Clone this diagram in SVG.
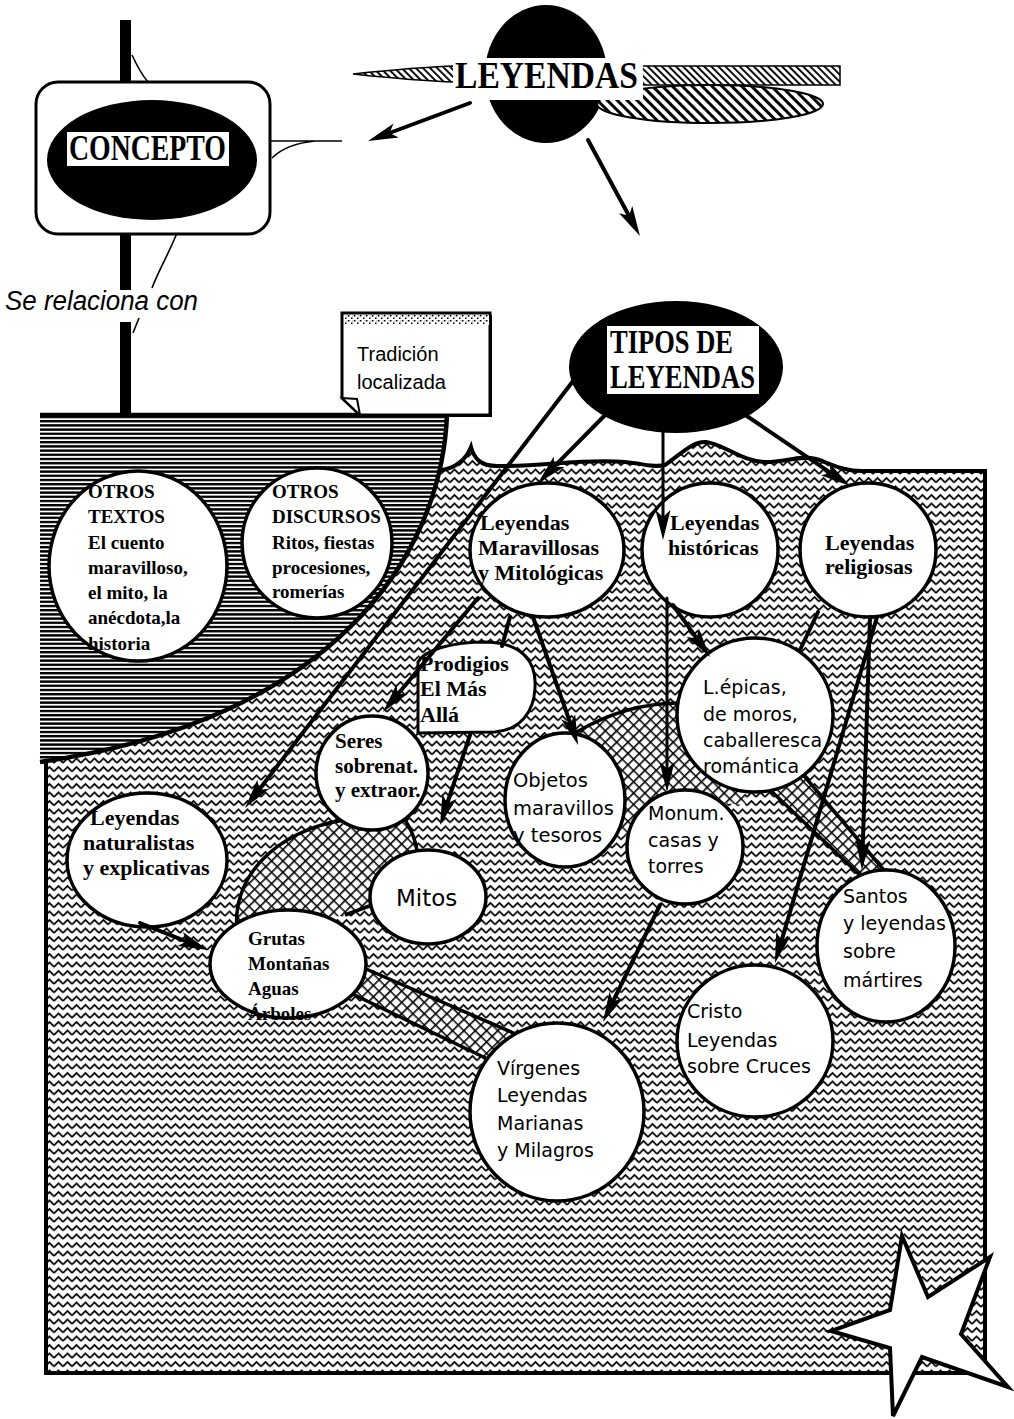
<svg xmlns="http://www.w3.org/2000/svg" width="1014" height="1419" viewBox="0 0 1014 1419">
<defs>
<style>
.bs{font-family:'Liberation Serif','Times New Roman',serif;font-weight:bold;fill:#000}
.ss{font-family:'DejaVu Sans',Verdana,sans-serif;fill:#000}
.ls{font-family:'Liberation Sans',Arial,sans-serif;fill:#000}
.node{fill:#fff;stroke:#000;stroke-width:3.5}
.conn{stroke:#000;stroke-width:4;fill:none;stroke-linecap:round}
.thin{stroke:#000;stroke-width:1.6;fill:none}
.xfill{fill:url(#xh);stroke:none}
.xline{stroke:#000;stroke-width:3.5;fill:none}
</style>
<pattern id="wave" width="9" height="8.5" patternUnits="userSpaceOnUse">
<rect width="9" height="8.5" fill="#fff"/>
<path d="M0,6.5 L4.5,2 L9,6.5" fill="none" stroke="#000" stroke-width="1.7"/>
</pattern>
<pattern id="hlines" width="8" height="4.2" patternUnits="userSpaceOnUse">
<rect width="8" height="4.2" fill="#fff"/>
<rect width="8" height="2.4" fill="#000"/>
</pattern>
<pattern id="xh" width="8" height="8" patternUnits="userSpaceOnUse" patternTransform="rotate(45)">
<rect width="8" height="8" fill="#fff"/>
<path d="M0,0.8 H8 M0.8,0 V8" stroke="#000" stroke-width="1.6"/>
</pattern>
<pattern id="hatch1" width="5" height="5" patternUnits="userSpaceOnUse" patternTransform="rotate(-45)">
<rect width="5" height="5" fill="#fff"/>
<rect x="0" width="1.9" height="5" fill="#000"/>
</pattern>
<pattern id="hatch2" width="7" height="7" patternUnits="userSpaceOnUse" patternTransform="rotate(-45)">
<rect width="7" height="7" fill="#fff"/>
<rect x="0" width="3" height="7" fill="#000"/>
</pattern>
<pattern id="noise" width="6" height="5" patternUnits="userSpaceOnUse">
<rect width="6" height="5" fill="#fff"/>
<rect x="0" y="0" width="1.5" height="1.5" fill="#000"/>
<rect x="3" y="2.5" width="1.5" height="1.5" fill="#000"/>
<rect x="4.5" y="0.5" width="1" height="1" fill="#555"/>
</pattern>
<marker id="ah" markerUnits="userSpaceOnUse" markerWidth="32" markerHeight="18" viewBox="0 0 32 18" refX="20" refY="9" orient="auto">
<path d="M0,1.5 L30,9 L0,16.5 L7,9 Z" fill="#000"/>
</marker>
</defs>
<rect width="1014" height="1419" fill="#fff"/>

<!-- background regions -->
<g id="regions">
<path id="wavy-region" d="M46,470 L442,470 C455,468 466,460 471,447 C474,458 480,466 497,466 C540,467 585,458 625,462 C645,464 655,468 665,465 C680,455 692,441 706,442 C724,444 742,462 766,462 C786,462 800,455 816,459 C832,464 842,471 862,471 L985,471 L985,1373 L46,1373 Z" fill="url(#wave)" stroke="#000" stroke-width="4"/>
<path id="lined-region" d="M40,415 L447,415 C441,560 330,720 40,762 Z" fill="url(#hlines)"/>
<path d="M40,415 L447,415 C441,560 330,720 40,762" fill="none" stroke="#000" stroke-width="4.5"/>
<!-- crosshatch zones -->
<path class="xfill" d="M238,935 C228,880 275,830 345,820 L405,820 C412,830 416,842 418,855 L372,905 L345,915 Z"/>
<path class="xline" d="M238,935 C228,880 275,830 345,820 M405,820 C412,830 416,842 418,855 M372,905 L345,915"/>
<path class="xfill" d="M350,962 L525,1038 L500,1065 L340,988 Z"/>
<path class="xline" d="M350,962 L525,1038 M500,1065 L340,988"/>
<path class="xfill" d="M575,733 Q625,703 680,703 L745,790 L745,805 L690,800 L626,840 L600,810 Z"/>
<path class="xline" d="M575,733 Q625,703 680,703"/>
<path class="xfill" d="M768,788 L865,880 L888,875 L800,771 Z"/>
<path class="xline" d="M768,788 L865,880 M888,875 L800,771"/>
</g>

<!-- top area -->
<g id="concepto">
<rect x="120" y="20" width="11" height="270" fill="#000"/>
<rect x="120" y="322" width="11" height="95" fill="#000"/>
<path class="thin" d="M132,55 C138,68 142,75 148,82"/>
<path class="thin" d="M270,141 L342,141 M272,158 C280,150 295,143 315,141"/>
<path class="thin" d="M177,233 C168,255 158,272 152,288"/>
<path class="thin" d="M133,333 L139,318"/>
<rect x="36" y="82" width="234" height="152" rx="22" fill="#fff" stroke="#000" stroke-width="3"/>
<ellipse cx="152" cy="160" rx="105" ry="60" fill="#000"/>
<rect x="67" y="132" width="162" height="34" fill="#fff"/>
<text class="bs" x="69" y="160" font-size="36" textLength="157" lengthAdjust="spacingAndGlyphs">CONCEPTO</text>
</g>
<text id="se-relaciona" class="ls" x="5" y="310" font-size="27" font-style="italic" textLength="193" lengthAdjust="spacingAndGlyphs">Se relaciona con</text>

<g id="leyendas">
<ellipse cx="546" cy="74" rx="61" ry="69" fill="#000"/>
<path d="M353,74 C390,70 420,67 455,66 L455,82 C420,81 390,78 353,74 Z" fill="url(#hatch1)" stroke="#000" stroke-width="1.5"/>
<rect x="642" y="66" width="198" height="19" fill="url(#hatch1)" stroke="#000" stroke-width="1.5"/>
<ellipse cx="710" cy="104" rx="113" ry="19" fill="url(#hatch2)" stroke="#000" stroke-width="2"/>
<rect x="453" y="58" width="190" height="42" fill="#fff"/>
<text class="bs" x="455" y="88" font-size="38" textLength="183" lengthAdjust="spacingAndGlyphs">LEYENDAS</text>
</g>

<g id="tradicion">
<path d="M342,313 H490 V415 H360 L342,398 Z" fill="#fff" stroke="#000" stroke-width="3"/>
<path d="M491,315 V416 H360" fill="none" stroke="#000" stroke-width="2"/>
<rect x="344" y="315" width="145" height="10" fill="url(#noise)"/>
<path d="M342,398 L357,399 L360,415 Z" fill="#fff" stroke="#000" stroke-width="2"/>
<text class="ls" x="357" y="361" font-size="20">Tradición</text>
<text class="ls" x="357" y="389" font-size="20">localizada</text>
</g>

<!-- nodes -->
<g id="otros-textos">
<ellipse class="node" cx="138" cy="566" rx="89" ry="95"/>
<text class="bs" font-size="19"><tspan x="88" y="498">OTROS</tspan><tspan x="88" y="523">TEXTOS</tspan><tspan x="88" y="549">El cuento</tspan><tspan x="88" y="574">maravilloso,</tspan><tspan x="88" y="599">el mito, la</tspan><tspan x="88" y="624">anécdota,la</tspan><tspan x="88" y="650">historia</tspan></text>
</g>
<g id="otros-discursos">
<ellipse class="node" cx="317" cy="543" rx="75" ry="75"/>
<text class="bs" font-size="19"><tspan x="272" y="498">OTROS</tspan><tspan x="272" y="523">DISCURSOS</tspan><tspan x="272" y="549">Ritos, fiestas</tspan><tspan x="272" y="574">procesiones,</tspan><tspan x="272" y="598">romerías</tspan></text>
</g>
<g id="maravillosas">
<ellipse class="node" cx="547" cy="550" rx="77" ry="67"/>
<text class="bs" font-size="22"><tspan x="480" y="530">Leyendas</tspan><tspan x="478" y="555">Maravillosas</tspan><tspan x="478" y="580">y Mitológicas</tspan></text>
</g>
<g id="historicas">
<ellipse class="node" cx="710" cy="550" rx="68" ry="67"/>
<text class="bs" font-size="22"><tspan x="670" y="530">Leyendas</tspan><tspan x="668" y="555">históricas</tspan></text>
</g>
<g id="religiosas">
<ellipse class="node" cx="868" cy="550" rx="68" ry="67"/>
<text class="bs" font-size="22"><tspan x="825" y="550">Leyendas</tspan><tspan x="825" y="574">religiosas</tspan></text>
</g>
<g id="prodigios">
<path d="M418,662 C425,650 450,642 487,642 C520,643 537,660 535,688 C534,712 520,730 495,732 L418,733 Z" fill="#fff" stroke="#000" stroke-width="3"/>
<text class="bs" font-size="22"><tspan x="420" y="671">Prodigios</tspan><tspan x="420" y="696">El Más</tspan><tspan x="420" y="722">Allá</tspan></text>
</g>
<g id="seres">
<ellipse class="node" cx="372" cy="773" rx="56" ry="57"/>
<text class="bs" font-size="21"><tspan x="335" y="748">Seres</tspan><tspan x="335" y="773">sobrenat.</tspan><tspan x="335" y="797">y extraor.</tspan></text>
</g>
<g id="objetos">
<ellipse class="node" cx="565" cy="800" rx="60" ry="67"/>
<text class="ss" font-size="19.5"><tspan x="513" y="787">Objetos</tspan><tspan x="513" y="815">maravillos</tspan><tspan x="513" y="842">y tesoros</tspan></text>
</g>
<g id="epicas">
<ellipse class="node" cx="755" cy="715" rx="78" ry="77"/>
<text class="ss" font-size="19"><tspan x="703" y="694">L.épicas,</tspan><tspan x="703" y="721">de moros,</tspan><tspan x="703" y="747">caballeresca</tspan><tspan x="703" y="773">romántica</tspan></text>
</g>
<g id="monum">
<ellipse class="node" cx="685" cy="847" rx="58" ry="57"/>
<text class="ss" font-size="19"><tspan x="648" y="820">Monum.</tspan><tspan x="648" y="847">casas y</tspan><tspan x="648" y="873">torres</tspan></text>
</g>
<g id="naturalistas">
<ellipse class="node" cx="147" cy="860" rx="80" ry="67"/>
<text class="bs" font-size="22"><tspan x="90" y="825">Leyendas</tspan><tspan x="83" y="850">naturalistas</tspan><tspan x="83" y="875">y explicativas</tspan></text>
</g>
<g id="mitos">
<ellipse class="node" cx="428" cy="897" rx="58" ry="47"/>
<text class="ss" x="396" y="906" font-size="23">Mitos</text>
</g>
<g id="grutas">
<ellipse class="node" cx="288" cy="964" rx="78" ry="54"/>
<text class="bs" font-size="19"><tspan x="248" y="945">Grutas</tspan><tspan x="248" y="970">Montañas</tspan><tspan x="248" y="995">Aguas</tspan><tspan x="248" y="1020">Árboles</tspan></text>
</g>
<g id="virgenes">
<ellipse class="node" cx="557" cy="1112" rx="87" ry="89"/>
<text class="ss" font-size="19"><tspan x="497" y="1075">Vírgenes</tspan><tspan x="497" y="1102">Leyendas</tspan><tspan x="497" y="1130">Marianas</tspan><tspan x="497" y="1157">y Milagros</tspan></text>
</g>
<g id="cristo">
<ellipse class="node" cx="755" cy="1041" rx="78" ry="76"/>
<text class="ss" font-size="19"><tspan x="687" y="1018">Cristo</tspan><tspan x="687" y="1047">Leyendas</tspan><tspan x="687" y="1073">sobre Cruces</tspan></text>
</g>
<g id="santos">
<ellipse class="node" cx="886" cy="946" rx="69" ry="76"/>
<text class="ss" font-size="19"><tspan x="843" y="903">Santos</tspan><tspan x="843" y="930">y leyendas</tspan><tspan x="843" y="958">sobre</tspan><tspan x="843" y="987">mártires</tspan></text>
</g>

<!-- connectors -->
<g id="connectors">
<path class="conn" d="M470,103 L377.4,137.5" marker-end="url(#ah)"/>
<path class="conn" d="M588,140 L635.2,227.2" marker-end="url(#ah)"/>
<path class="conn" d="M580,372 L251.1,800.1" marker-end="url(#ah)"/>
<path class="conn" d="M612,408 L545,475.9" marker-end="url(#ah)"/>
<path class="conn" d="M663,430 L663,530" marker-end="url(#ah)" style="stroke-width:3"/>
<path class="conn" d="M738,410 L841.7,480.4" marker-end="url(#ah)"/>
<path class="conn" d="M478,598 L389.4,704.3" marker-end="url(#ah)"/>
<path class="conn" d="M533,617 L574.7,735.6" marker-end="url(#ah)"/>
<path class="conn" d="M470,735 L443.2,815.5" marker-end="url(#ah)"/>
<path class="conn" d="M667,598 L667,782" marker-end="url(#ah)" style="stroke-width:3"/>
<path class="conn" d="M673,605 L704.2,648.9" marker-end="url(#ah)"/>
<path class="conn" d="M870,617 L862.3,860" marker-end="url(#ah)"/>
<path class="conn" d="M877,617 L777.8,953.4" marker-end="url(#ah)"/>
<path class="conn" d="M660,905 L607.4,1013" marker-end="url(#ah)"/>
<path class="conn" d="M140,923 L198.7,946.3" marker-end="url(#ah)"/>
<path class="conn" d="M510,617 L502,646"/>
<path class="conn" d="M818,612 L800,650"/>
</g>

<g id="tipos">
<ellipse cx="676" cy="367" rx="107" ry="66" fill="#000"/>
<rect x="607" y="326" width="152" height="68" fill="#fff"/>
<text class="bs" x="610" y="353" font-size="33" textLength="123" lengthAdjust="spacingAndGlyphs">TIPOS DE</text>
<text class="bs" x="610" y="388" font-size="33" textLength="145" lengthAdjust="spacingAndGlyphs">LEYENDAS</text>
</g>

<g id="star">
<path d="M902,1236 L928,1297 L990,1257 L961,1334 L1008,1387 L922,1357 L893,1416 L890,1348 L831,1331 L890,1310 Z" fill="#fff" stroke="#000" stroke-width="4" stroke-linejoin="miter"/>
</g>
</svg>
